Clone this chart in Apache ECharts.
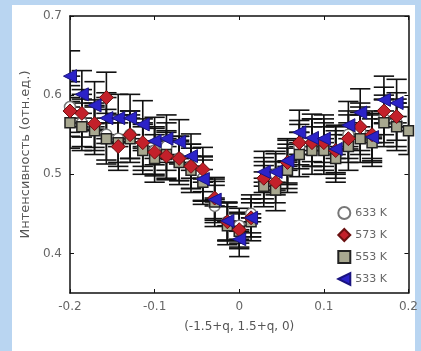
<!DOCTYPE html>
<html>
<head>
<meta charset="utf-8">
<script src="https://cdn.jsdelivr.net/npm/echarts@6/dist/echarts.min.js"></script>
<style>
  html, body { margin: 0; padding: 0; background: #b9d5f1; }
  #chart { width: 421px; height: 351px; }
</style>
</head>
<body>
<div id="chart"></div>
<script>
// q positions
const qValues = [-0.2, -0.186, -0.171, -0.157, -0.143, -0.129, -0.114, -0.1, -0.086, -0.071,
  -0.057, -0.043, -0.029, -0.014, 0, 0.014, 0.029, 0.043, 0.057, 0.071,
  0.086, 0.1, 0.114, 0.129, 0.143, 0.157, 0.171, 0.186, 0.2];

const k633 = [0.585, 0.565, 0.56, 0.55, 0.545, 0.55, 0.535, 0.53, 0.535, 0.52,
  0.51, 0.495, 0.46, 0.44, 0.435, 0.45, 0.49, 0.5, 0.51, 0.535,
  0.54, 0.535, 0.525, 0.55, 0.555, 0.545, 0.57, 0.565, null];
const k573 = [0.58, 0.577, 0.564, 0.597, 0.535, 0.55, 0.54, 0.528, 0.523, 0.52,
  0.51, 0.506, 0.47, 0.44, 0.43, 0.445, 0.495, 0.49, 0.515, 0.54,
  0.54, 0.54, 0.53, 0.545, 0.56, 0.55, 0.58, 0.573, null];
const k553 = [0.565, 0.56, 0.555, 0.545, 0.54, 0.545, 0.53, 0.52, 0.525, 0.515,
  0.505, 0.49, 0.465, 0.435, 0.428, 0.44, 0.485, 0.48, 0.505, 0.525,
  0.53, 0.53, 0.52, 0.535, 0.545, 0.54, 0.565, 0.56, 0.555];
const k533 = [0.624, 0.601, 0.587, 0.571, 0.571, 0.571, 0.563, 0.542, 0.545, 0.541,
  0.523, 0.494, 0.468, 0.441, 0.418, 0.445, 0.503, 0.503, 0.517, 0.553,
  0.546, 0.545, 0.532, 0.562, 0.578, 0.547, 0.594, 0.59, null];

// error bar half-heights (shared by all temperatures)
const errY = [0.032, 0.03, 0.03, 0.032, 0.03, 0.03, 0.03, 0.03, 0.03, 0.028,
  0.028, 0.028, 0.026, 0.024, 0.022, 0.024, 0.026, 0.026, 0.028, 0.028,
  0.03, 0.03, 0.03, 0.03, 0.03, 0.03, 0.03, 0.03, 0.03];
const errX = 0.012;

const yTicks = [0.4, 0.5, 0.6, 0.7];

const chart = echarts.init(document.getElementById('chart'));

function pts(vals) {
  const out = [];
  vals.forEach((v, i) => { if (v != null) out.push([qValues[i], v]); });
  return out;
}
function errs(vals) {
  const out = [];
  vals.forEach((v, i) => { if (v != null) out.push([qValues[i], v, errY[i]]); });
  return out;
}

function renderErr(params, api) {
  const x = api.value(0), y = api.value(1), e = api.value(2);
  const top = api.coord([x, y + e]);
  const bot = api.coord([x, y - e]);
  const l = api.coord([x - errX, y]);
  const r = api.coord([x + errX, y]);
  const st = { stroke: '#111', lineWidth: 1.6 };
  return {
    type: 'group',
    children: [
      { type: 'line', shape: { x1: top[0], y1: top[1], x2: bot[0], y2: bot[1] }, style: st },
      { type: 'line', shape: { x1: l[0], y1: top[1], x2: r[0], y2: top[1] }, style: st },
      { type: 'line', shape: { x1: l[0], y1: bot[1], x2: r[0], y2: bot[1] }, style: st },
      { type: 'line', shape: { x1: l[0], y1: l[1], x2: r[0], y2: r[1] }, style: st }
    ]
  };
}

const allErr = [].concat(errs(k633), errs(k573), errs(k553), errs(k533));

const labelStyle = { color: '#666', fontSize: 12, fontFamily: 'DejaVu Sans' };
const axisLineStyle = { show: true, onZero: false, lineStyle: { color: '#111', width: 1.5 } };
const tickStyle = { inside: true, length: 4, lineStyle: { color: '#111' } };

chart.setOption({
  backgroundColor: '#b9d5f1',
  animation: false,
  graphic: [{
    type: 'rect', left: 12, top: 5, z: -10,
    shape: { width: 403, height: 346 },
    style: { fill: '#ffffff' }
  }],
  grid: { left: 70, right: 11, top: 16, bottom: 58 },
  legend: {
    orient: 'vertical',
    right: 29,
    top: 201,
    itemWidth: 12,
    itemHeight: 12,
    itemGap: 8,
    textStyle: { color: '#666', fontSize: 11, fontFamily: 'DejaVu Sans' },
    data: ['633 K', '573 K', '553 K',
      { name: '533 K', icon: 'path://M0,5 L10,0 L10,10 Z' }]
  },
  xAxis: [{
    type: 'value',
    min: -0.2, max: 0.2, interval: 0.1,
    name: '(-1.5+q, 1.5+q, 0)',
    nameLocation: 'middle',
    nameGap: 28,
    nameTextStyle: { color: '#555', fontSize: 12, fontFamily: 'DejaVu Sans' },
    axisLine: axisLineStyle,
    axisTick: tickStyle,
    axisLabel: Object.assign({ margin: 8, formatter: v => String(+v.toFixed(1)) }, labelStyle),
    splitLine: { show: false }
  }, {
    type: 'value', position: 'top',
    min: -0.2, max: 0.2, interval: 0.1,
    axisLine: axisLineStyle,
    axisTick: tickStyle,
    axisLabel: { show: false },
    splitLine: { show: false }
  }],
  yAxis: [{
    type: 'value',
    min: 0.35, max: 0.7,
    name: 'Интенсивность (отн.ед.)',
    nameLocation: 'middle',
    nameGap: 34,
    nameTextStyle: { color: '#555', fontSize: 13, fontFamily: 'DejaVu Sans' },
    axisLine: axisLineStyle,
    axisTick: Object.assign({ customValues: yTicks }, tickStyle),
    axisLabel: Object.assign({ margin: 8, customValues: yTicks, formatter: v => v.toFixed(1) }, labelStyle),
    splitLine: { show: false }
  }, {
    type: 'value', position: 'right',
    min: 0.35, max: 0.7,
    axisLine: axisLineStyle,
    axisTick: Object.assign({ customValues: yTicks }, tickStyle),
    axisLabel: { show: false },
    splitLine: { show: false }
  }],
  series: [
    {
      type: 'custom',
      renderItem: renderErr,
      data: allErr,
      clip: true,
      z: 1,
      silent: true
    },
    {
      name: '633 K', type: 'scatter', symbol: 'circle', symbolSize: 11, z: 2,
      itemStyle: { color: '#ffffff', borderColor: '#777', borderWidth: 1.5, opacity: 1 },
      data: pts(k633)
    },
    {
      name: '553 K', type: 'scatter', symbol: 'rect', symbolSize: 10, z: 3,
      itemStyle: { color: '#a8a890', borderColor: '#222', borderWidth: 1.5, opacity: 1 },
      data: pts(k553)
    },
    {
      name: '573 K', type: 'scatter', symbol: 'diamond', symbolSize: 14, z: 4,
      itemStyle: { color: '#c3202a', borderColor: '#6a1010', borderWidth: 1, opacity: 1 },
      data: pts(k573)
    },
    {
      name: '533 K', type: 'scatter', symbol: 'triangle', symbolSize: 13, symbolRotate: 90, z: 5,
      itemStyle: { color: '#2b22c8', borderColor: '#1a1480', borderWidth: 1, opacity: 1 },
      data: pts(k533)
    }
  ]
});
</script>
</body>
</html>
